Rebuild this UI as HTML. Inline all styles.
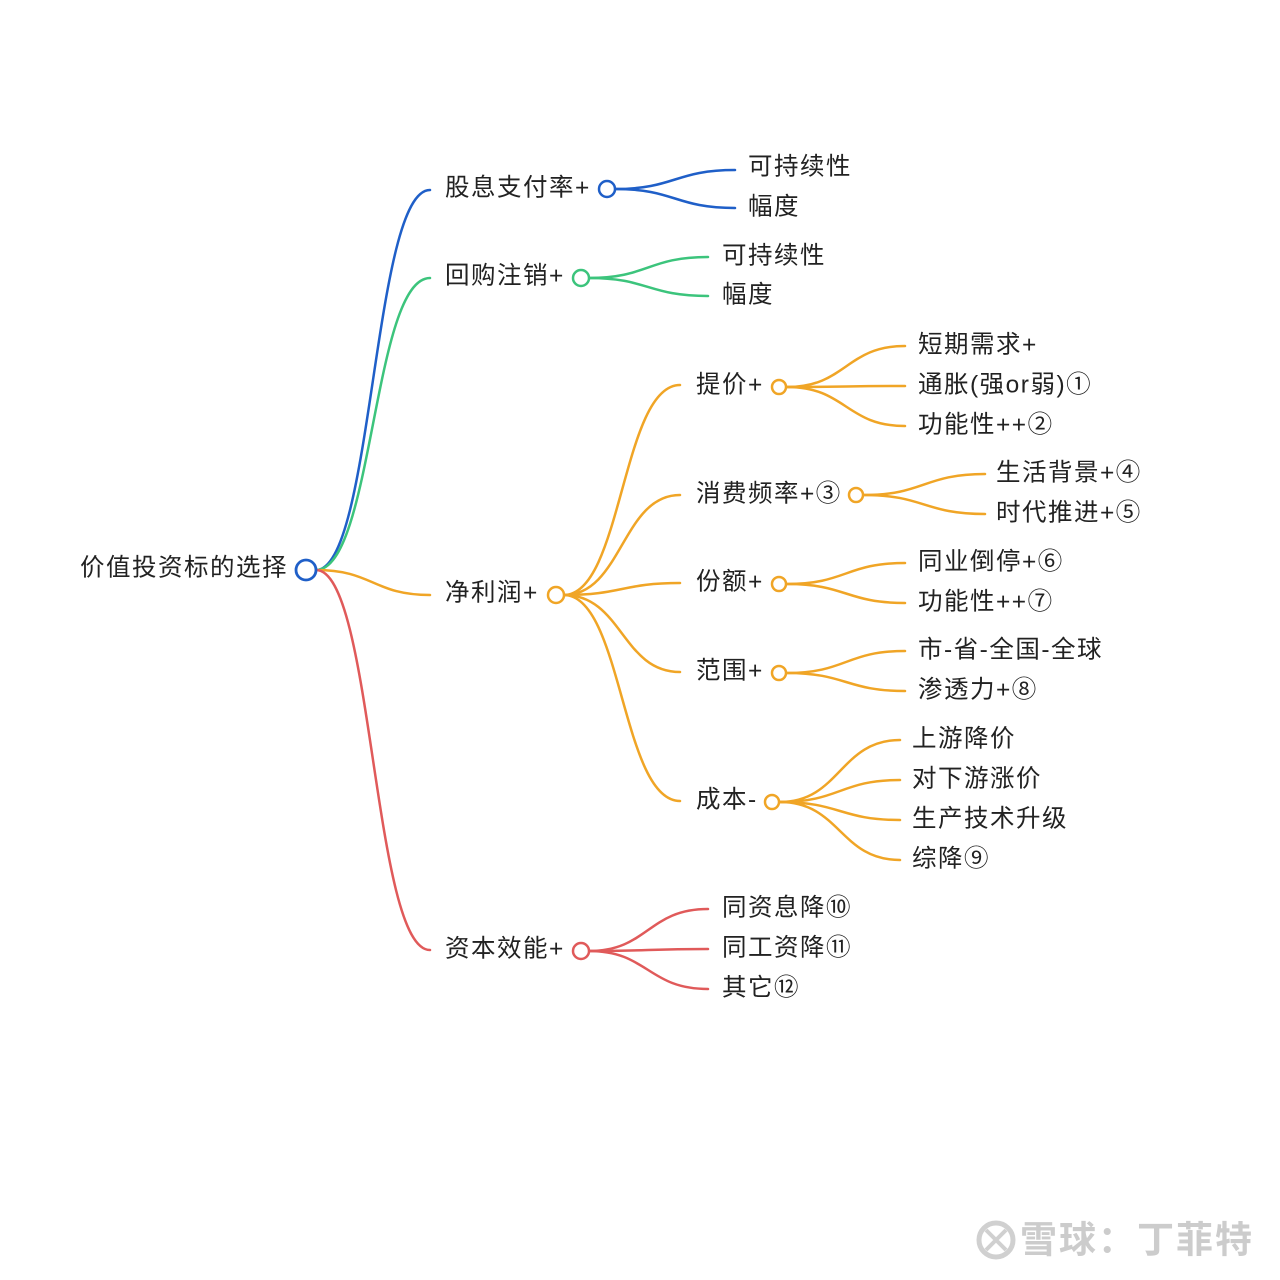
<!DOCTYPE html>
<html><head><meta charset="utf-8"><style>
html,body{margin:0;padding:0;background:#fff;}
svg{display:block}
text{font-family:"Liberation Sans","Noto Sans CJK SC",sans-serif;font-size:24.5px;letter-spacing:1.5px;fill:#222;dominant-baseline:central}
</style></head><body>
<svg width="1280" height="1280" viewBox="0 0 1280 1280" xmlns="http://www.w3.org/2000/svg">
<g fill="none" stroke-width="2.5" stroke-linecap="round">
<path d="M316 570 C373 570,373 190,430 190" stroke="#1f5fc8"/>
<path d="M316 570 C373 570,373 278,430 278" stroke="#3cc47c"/>
<path d="M316 570 C373 570,373 595,430 595" stroke="#f0a526"/>
<path d="M316 570 C373 570,373 950,430 950" stroke="#e05a5a"/>
<g stroke="#1f5fc8"><path d="M615 189 C675 189,675 170,735 170"/><path d="M615 189 C675 189,675 208,735 208"/></g>
<g stroke="#3cc47c"><path d="M589 278 C648 278,648 257,708 257"/><path d="M589 278 C648 278,648 296,708 296"/></g>
<g stroke="#f0a526">
<path d="M564 595 C622 595,622 385,680 385"/><path d="M564 595 C622 595,622 495,680 495"/><path d="M564 595 C622 595,622 583,680 583"/><path d="M564 595 C622 595,622 672,680 672"/><path d="M564 595 C622 595,622 801,680 801"/>
<path d="M787 387 C846 387,846 346,905 346"/><path d="M787 387 C846 387,846 386,905 386"/><path d="M787 387 C846 387,846 426,905 426"/>
<path d="M864 495 C924 495,924 474,985 474"/><path d="M864 495 C924 495,924 514,985 514"/>
<path d="M787 584 C846 584,846 563,905 563"/><path d="M787 584 C846 584,846 603,905 603"/>
<path d="M787 673 C846 673,846 651,905 651"/><path d="M787 673 C846 673,846 691,905 691"/>
<path d="M780 802 C840 802,840 740,900 740"/><path d="M780 802 C840 802,840 780,900 780"/><path d="M780 802 C840 802,840 820,900 820"/><path d="M780 802 C840 802,840 860,900 860"/>
</g>
<g stroke="#e05a5a"><path d="M589 951 C648 951,648 909,708 909"/><path d="M589 951 C648 951,648 949,708 949"/><path d="M589 951 C648 951,648 989,708 989"/></g>
<circle cx="306" cy="570" r="10" stroke="#1f5fc8" stroke-width="2.8" fill="#fff"/>
<circle cx="607" cy="189" r="8" stroke="#1f5fc8" fill="#fff"/>
<circle cx="581" cy="278" r="8" stroke="#3cc47c" fill="#fff"/>
<circle cx="556" cy="595" r="8" stroke="#f0a526" fill="#fff"/>
<circle cx="779" cy="387" r="7" stroke="#f0a526" fill="#fff"/>
<circle cx="856" cy="495" r="7" stroke="#f0a526" fill="#fff"/>
<circle cx="779" cy="584" r="7" stroke="#f0a526" fill="#fff"/>
<circle cx="779" cy="673" r="7" stroke="#f0a526" fill="#fff"/>
<circle cx="772" cy="802" r="7" stroke="#f0a526" fill="#fff"/>
<circle cx="581" cy="951" r="8" stroke="#e05a5a" fill="#fff"/>
</g>
<text x="80" y="568">价值投资标的选择</text>
<text x="445" y="188">股息支付率+</text>
<text x="748" y="167">可持续性</text><text x="748" y="207">幅度</text>
<text x="445" y="276">回购注销+</text>
<text x="722" y="256">可持续性</text><text x="722" y="295">幅度</text>
<text x="445" y="593">净利润+</text>
<text x="696" y="385">提价+</text>
<text x="918" y="345">短期需求+</text><text x="918" y="385">通胀(强or弱)①</text><text x="918" y="425">功能性++②</text>
<text x="696" y="494">消费频率+③</text>
<text x="996" y="473">生活背景+④</text><text x="996" y="513">时代推进+⑤</text>
<text x="696" y="582">份额+</text>
<text x="918" y="562">同业倒停+⑥</text><text x="918" y="602">功能性++⑦</text>
<text x="696" y="671">范围+</text>
<text x="918" y="650">市-省-全国-全球</text><text x="918" y="690">渗透力+⑧</text>
<text x="696" y="800">成本-</text>
<text x="912" y="739">上游降价</text><text x="912" y="779">对下游涨价</text><text x="912" y="819">生产技术升级</text><text x="912" y="859">综降⑨</text>
<text x="445" y="949">资本效能+</text>
<text x="722" y="908">同资息降⑩</text><text x="722" y="948">同工资降⑪</text><text x="722" y="988">其它⑫</text>
<g>
<circle cx="996" cy="1240" r="17" fill="none" stroke="#d0d0d0" stroke-width="5"/>
<path d="M986 1230 L1006 1250 M1006 1230 L986 1250" stroke="#d0d0d0" stroke-width="4"/>
<text x="1020" y="1240" style="font-size:37px;letter-spacing:2px;fill:#cccccc;font-weight:bold">雪球：丁菲特</text>
</g>
</svg>
</body></html>
